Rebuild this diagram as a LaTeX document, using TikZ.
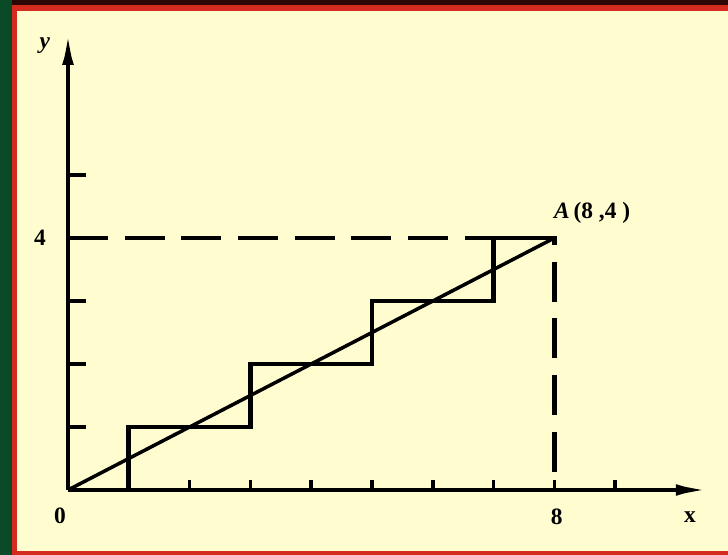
\documentclass[tikz,border=0pt]{standalone}
\usepackage{fontspec}
\setmainfont{Liberation Serif}
\usetikzlibrary{arrows.meta}

\definecolor{frgreen}{HTML}{0B4A26}
\definecolor{frred}{HTML}{D52A1E}
\definecolor{paper}{HTML}{FFFDD0}

\begin{document}
\begin{tikzpicture}[
  axis/.style={line width=4.2pt,-{Latex[length=1.1cm,width=0.34cm]}},
  stair/.style={line width=4pt,line join=miter},
  diag/.style={line width=3pt},
  guide/.style={line width=3.6pt,dash pattern=on 1.2cm off 0.5cm},
  tickmark/.style={line width=3pt},
  lbl/.style={font=\fontsize{20}{24}\selectfont\bfseries,inner sep=1pt}
]
  \useasboundingbox (0,0) rectangle (21.84,16.65);
  \fill[frgreen] (0,0) rectangle (21.84,16.65);
  \fill[black!80!frred] (0.36,16.5) rectangle (21.84,16.65);
  \fill[frred] (0.36,0) rectangle (21.84,16.5);
  \fill[paper] (0.51,0.12) rectangle (21.84,16.32);

  \begin{scope}[shift={(2.04,1.95)},x=1.824cm,y=1.89cm]
    \coordinate (O) at (0,0);
    \coordinate (A) at (8,4);
    \coordinate (xend) at (10.6,0);
    \coordinate (yend) at (0,7.33);

    \draw[axis] (O) -- (xend);
    \draw[axis] (O) -- (yend);
    \foreach \i in {1,...,9}
      \draw[tickmark] (\i,0) -- ++(0,0.16);
    \foreach \j in {1,...,5}
      \draw[tickmark] (0,\j) -- ++(0.3,0);

    \draw[guide] (0,4) -- (A) -- (8,0);
    \draw[stair] (1,0) -- (1,1) -- (3,1) -- (3,2) -- (5,2) -- (5,3) -- (7,3) -- (7,4) -- (A);
    \draw[diag] (O) -- (A);

    \node[lbl,font=\fontsize{20}{24}\selectfont\bfseries\itshape](ylbl) at (-0.38,7.05) {y};
    \node[lbl](four) at (-0.46,4) {4};
    \node[lbl](zero) at (-0.13,-0.41) {0};
    \node[lbl](eight) at (8.04,-0.43) {8};
    \node[lbl](xlbl) at (10.23,-0.43) {x};
    \node[lbl](Albl) at (8.62,4.4) {\textit{A}\,(8\ ,4\ )};
  \end{scope}
\end{tikzpicture}
\end{document}
